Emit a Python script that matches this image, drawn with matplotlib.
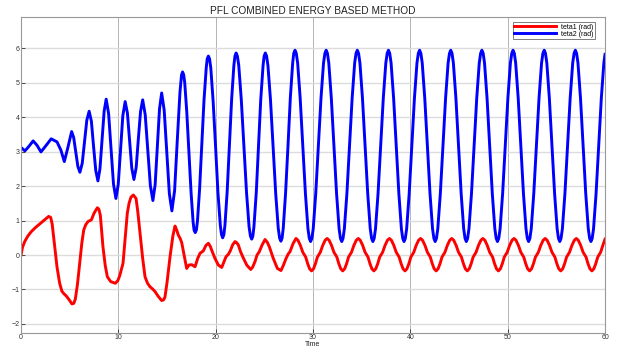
import matplotlib
matplotlib.use("Agg")
import matplotlib.pyplot as plt

plt.rcParams['font.family'] = ['Liberation Sans', 'DejaVu Sans']

title = "PFL COMBINED ENERGY BASED METHOD"
series_names = ["teta1 (rad)", "teta2 (rad)"]
x_ticks = [0, 10, 20, 30, 40, 50, 60]
y_ticks = [-2, -1, 0, 1, 2, 3, 4, 5, 6]

# teta2 (blue)
teta2_t = [
    0.0, 0.4, 0.75, 1.25, 1.65, 2.05, 2.5, 3.1, 3.7, 4.1, 4.45, 4.8, 5.2,
    5.41, 5.63, 5.84, 6.05, 6.29, 6.53, 6.76, 7.0,
    7.23, 7.45, 7.68, 7.9, 8.11, 8.33, 8.54, 8.75,
    9.0, 9.25, 9.5, 9.75, 9.99, 10.23, 10.46, 10.7,
    10.93, 11.15, 11.38, 11.6, 11.83, 12.05, 12.28, 12.5,
    12.76, 13.03, 13.29, 13.55, 13.78, 14.0, 14.23, 14.45,
    14.71, 14.98, 15.24, 15.5,
    15.78, 16.05, 16.33, 16.49, 16.6, 16.71,
    16.82, 17.03, 17.25, 17.47, 17.68, 17.78, 17.9, 18.02,
    18.13, 18.35, 18.58, 18.8, 19.03, 19.13, 19.25, 19.37,
    19.5, 19.74, 19.99, 20.23, 20.48, 20.6, 20.72, 20.84,
    20.95, 21.18, 21.41, 21.64, 21.87, 21.98, 22.1, 22.23,
    22.37, 22.63, 22.9, 23.17, 23.43, 23.57, 23.7, 23.82,
    23.93, 24.17, 24.4, 24.63, 24.87, 24.98, 25.1, 25.23,
    25.37, 25.63, 25.9, 26.17, 26.43, 26.57, 26.7, 26.82,
    26.94, 27.18, 27.43, 27.67, 27.91, 28.02,
    28.15, 28.28, 28.42, 28.68, 28.95, 29.22, 29.48, 29.62, 29.75, 29.88, 30.02, 30.28, 30.55, 30.82, 31.08, 31.22,
    31.35, 31.48, 31.62, 31.88, 32.15, 32.42, 32.68, 32.82, 32.95, 33.08, 33.22, 33.48, 33.75, 34.02, 34.28, 34.42,
    34.55, 34.68, 34.82, 35.08, 35.35, 35.62, 35.88, 36.02, 36.15, 36.28, 36.42, 36.68, 36.95, 37.22, 37.48, 37.62,
    37.75, 37.88, 38.02, 38.28, 38.55, 38.82, 39.08, 39.22, 39.35, 39.48, 39.62, 39.88, 40.15, 40.42, 40.68, 40.82,
    40.95, 41.08, 41.22, 41.48, 41.75, 42.02, 42.28, 42.42, 42.55, 42.68, 42.82, 43.08, 43.35, 43.62, 43.88, 44.02,
    44.15, 44.28, 44.42, 44.68, 44.95, 45.22, 45.48, 45.62, 45.75, 45.88, 46.02, 46.28, 46.55, 46.82, 47.08, 47.22,
    47.35, 47.48, 47.62, 47.88, 48.15, 48.42, 48.68, 48.82, 48.95, 49.08, 49.22, 49.48, 49.75, 50.02, 50.28, 50.42,
    50.55, 50.68, 50.82, 51.08, 51.35, 51.62, 51.88, 52.02, 52.15, 52.28, 52.42, 52.68, 52.95, 53.22, 53.48, 53.62,
    53.75, 53.88, 54.02, 54.28, 54.55, 54.82, 55.08, 55.22, 55.35, 55.48, 55.62, 55.88, 56.15, 56.42, 56.68, 56.82,
    56.95, 57.08, 57.22, 57.48, 57.75, 58.02, 58.28, 58.42, 58.55, 58.68, 58.82, 59.08, 59.35, 59.62, 59.88,
    60.0,
]
teta2 = [
    3.12, 3.02, 3.13, 3.31, 3.18, 2.99, 3.15, 3.37, 3.28, 3.04, 2.71, 3.1, 3.58,
    3.41, 2.99, 2.57, 2.40, 2.66, 3.29, 3.91, 4.17,
    3.88, 3.16, 2.45, 2.15, 2.50, 3.34, 4.17, 4.52,
    4.10, 3.08, 2.06, 1.64, 2.05, 3.05, 4.04, 4.45,
    4.12, 3.32, 2.52, 2.19, 2.53, 3.35, 4.16, 4.50,
    4.07, 3.04, 2.01, 1.58, 2.04, 3.14, 4.24, 4.70,
    4.20, 2.99, 1.78, 1.28,
    1.87, 3.30, 4.72, 5.22, 5.31, 5.23,
    5.00, 4.15, 2.98, 1.82, 0.96, 0.72, 0.65, 0.73,
    0.99, 1.93, 3.21, 4.49, 5.43, 5.69, 5.77, 5.69,
    5.42, 4.45, 3.14, 1.82, 0.85, 0.59, 0.50, 0.59,
    0.86, 1.84, 3.18, 4.52, 5.50, 5.77, 5.86, 5.77,
    5.50, 4.51, 3.16, 1.81, 0.82, 0.55, 0.46, 0.55,
    0.82, 1.81, 3.16, 4.51, 5.50, 5.77, 5.86, 5.77,
    5.49, 4.50, 3.13, 1.77, 0.77, 0.49, 0.40, 0.49,
    0.77, 1.79, 3.17, 4.56, 5.57, 5.85,
    5.94, 5.85, 5.57, 4.55, 3.17, 1.78, 0.76, 0.48, 0.39, 0.48, 0.76, 1.78, 3.17, 4.55, 5.57, 5.85,
    5.94, 5.85, 5.57, 4.55, 3.17, 1.78, 0.76, 0.48, 0.39, 0.48, 0.76, 1.78, 3.17, 4.55, 5.57, 5.85,
    5.94, 5.85, 5.57, 4.55, 3.17, 1.78, 0.76, 0.48, 0.39, 0.48, 0.76, 1.78, 3.17, 4.55, 5.57, 5.85,
    5.94, 5.85, 5.57, 4.55, 3.17, 1.78, 0.76, 0.48, 0.39, 0.48, 0.76, 1.78, 3.17, 4.55, 5.57, 5.85,
    5.94, 5.85, 5.57, 4.55, 3.17, 1.78, 0.76, 0.48, 0.39, 0.48, 0.76, 1.78, 3.17, 4.55, 5.57, 5.85,
    5.94, 5.85, 5.57, 4.55, 3.17, 1.78, 0.76, 0.48, 0.39, 0.48, 0.76, 1.78, 3.17, 4.55, 5.57, 5.85,
    5.94, 5.85, 5.57, 4.55, 3.17, 1.78, 0.76, 0.48, 0.39, 0.48, 0.76, 1.78, 3.17, 4.55, 5.57, 5.85,
    5.94, 5.85, 5.57, 4.55, 3.17, 1.78, 0.76, 0.48, 0.39, 0.48, 0.76, 1.78, 3.17, 4.55, 5.57, 5.85,
    5.94, 5.85, 5.57, 4.55, 3.17, 1.78, 0.76, 0.48, 0.39, 0.48, 0.76, 1.78, 3.17, 4.55, 5.57, 5.85,
    5.94, 5.85, 5.57, 4.55, 3.17, 1.78, 0.76, 0.48, 0.39, 0.48, 0.76, 1.78, 3.17, 4.55, 5.57,
    5.82,
]

# teta1 (red)
teta1_t = [
    0.0, 0.15, 0.38, 0.7, 1.06, 1.5, 2.09, 2.5, 2.84, 3.05,
    3.2, 3.46, 3.7, 3.97, 4.2, 4.4, 4.66, 4.95, 5.24, 5.42,
    5.58, 5.8, 6.03, 6.25, 6.44, 6.65, 6.88, 7.23, 7.5, 7.84,
    8.0, 8.15, 8.42, 8.65, 8.87, 9.21, 9.69, 9.95, 10.14, 10.48,
    10.7, 10.92, 11.1, 11.3, 11.54, 11.82, 12.0, 12.23, 12.5, 12.74,
    13.0, 13.25, 13.5, 13.77, 14.1, 14.45, 14.65, 14.79, 15.0, 15.31,
    15.6, 15.82, 16.0, 16.16, 16.35, 16.51, 16.75, 17.02, 17.26, 17.54,
    17.88, 18.15, 18.39, 18.73, 19.0, 19.25, 19.45, 19.59, 19.93, 20.27,
    20.62, 20.85, 21.06, 21.3, 21.5, 21.75, 21.99, 22.15, 22.33, 22.55,
    22.78, 22.95, 23.19, 23.6, 23.8, 24.04, 24.25, 24.49, 24.75, 25.07,
    25.3, 25.51, 25.7, 25.92, 26.34, 26.71, 26.95, 27.23, 27.45, 27.64,
    27.95,
    28.25, 28.45, 28.7, 28.95, 29.1, 29.25, 29.45, 29.65, 29.85, 30.05, 30.25, 30.45, 30.6, 30.75, 31.0, 31.25,
    31.45, 31.65, 31.9, 32.15, 32.3, 32.45, 32.65, 32.85, 33.05, 33.25, 33.45, 33.65, 33.8, 33.95, 34.2, 34.45,
    34.65, 34.85, 35.1, 35.35, 35.5, 35.65, 35.85, 36.05, 36.25, 36.45, 36.65, 36.85, 37.0, 37.15, 37.4, 37.65,
    37.85, 38.05, 38.3, 38.55, 38.7, 38.85, 39.05, 39.25, 39.45, 39.65, 39.85, 40.05, 40.2, 40.35, 40.6, 40.85,
    41.05, 41.25, 41.5, 41.75, 41.9, 42.05, 42.25, 42.45, 42.65, 42.85, 43.05, 43.25, 43.4, 43.55, 43.8, 44.05,
    44.25, 44.45, 44.7, 44.95, 45.1, 45.25, 45.45, 45.65, 45.85, 46.05, 46.25, 46.45, 46.6, 46.75, 47.0, 47.25,
    47.45, 47.65, 47.9, 48.15, 48.3, 48.45, 48.65, 48.85, 49.05, 49.25, 49.45, 49.65, 49.8, 49.95, 50.2, 50.45,
    50.65, 50.85, 51.1, 51.35, 51.5, 51.65, 51.85, 52.05, 52.25, 52.45, 52.65, 52.85, 53.0, 53.15, 53.4, 53.65,
    53.85, 54.05, 54.3, 54.55, 54.7, 54.85, 55.05, 55.25, 55.45, 55.65, 55.85, 56.05, 56.2, 56.35, 56.6, 56.85,
    57.05, 57.25, 57.5, 57.75, 57.9, 58.05, 58.25, 58.45, 58.65, 58.85, 59.05, 59.25, 59.4, 59.55, 59.8, 60.0,
]
teta1 = [
    0.0, 0.22, 0.39, 0.55, 0.68, 0.80, 0.94, 1.04, 1.12, 1.09,
    0.90, 0.24, -0.35, -0.82, -1.05, -1.12, -1.19, -1.30, -1.42, -1.40,
    -1.28, -0.85, -0.24, 0.35, 0.72, 0.88, 0.97, 1.02, 1.21, 1.37,
    1.33, 1.15, 0.24, -0.30, -0.63, -0.77, -0.82, -0.74, -0.60, -0.24,
    0.50, 1.21, 1.50, 1.68, 1.74, 1.64, 1.25, 0.63, -0.10, -0.63,
    -0.82, -0.92, -0.98, -1.06, -1.20, -1.32, -1.30, -1.22, -0.80, -0.05,
    0.55, 0.84, 0.72, 0.58, 0.48, 0.36, 0.0, -0.39, -0.29, -0.28,
    -0.34, -0.10, 0.05, 0.12, 0.28, 0.34, 0.25, 0.14, -0.10, -0.29,
    -0.36, -0.20, -0.05, 0.02, 0.12, 0.30, 0.39, 0.36, 0.29, 0.10,
    -0.05, -0.15, -0.29, -0.42, -0.35, -0.19, 0.0, 0.10, 0.28, 0.45,
    0.37, 0.24, 0.08, -0.10, -0.39, -0.45, -0.30, -0.10, 0.03, 0.10,
    0.33,
    0.48, 0.43, 0.28, 0.08, 0.01, -0.06, -0.25, -0.40, -0.46, -0.40, -0.25, -0.06, 0.01, 0.08, 0.28, 0.43,
    0.48, 0.43, 0.28, 0.08, 0.01, -0.06, -0.25, -0.40, -0.46, -0.40, -0.25, -0.06, 0.01, 0.08, 0.28, 0.43,
    0.48, 0.43, 0.28, 0.08, 0.01, -0.06, -0.25, -0.40, -0.46, -0.40, -0.25, -0.06, 0.01, 0.08, 0.28, 0.43,
    0.48, 0.43, 0.28, 0.08, 0.01, -0.06, -0.25, -0.40, -0.46, -0.40, -0.25, -0.06, 0.01, 0.08, 0.28, 0.43,
    0.48, 0.43, 0.28, 0.08, 0.01, -0.06, -0.25, -0.40, -0.46, -0.40, -0.25, -0.06, 0.01, 0.08, 0.28, 0.43,
    0.48, 0.43, 0.28, 0.08, 0.01, -0.06, -0.25, -0.40, -0.46, -0.40, -0.25, -0.06, 0.01, 0.08, 0.28, 0.43,
    0.48, 0.43, 0.28, 0.08, 0.01, -0.06, -0.25, -0.40, -0.46, -0.40, -0.25, -0.06, 0.01, 0.08, 0.28, 0.43,
    0.48, 0.43, 0.28, 0.08, 0.01, -0.06, -0.25, -0.40, -0.46, -0.40, -0.25, -0.06, 0.01, 0.08, 0.28, 0.43,
    0.48, 0.43, 0.28, 0.08, 0.01, -0.06, -0.25, -0.40, -0.46, -0.40, -0.25, -0.06, 0.01, 0.08, 0.28, 0.43,
    0.48, 0.43, 0.28, 0.08, 0.01, -0.06, -0.25, -0.40, -0.46, -0.40, -0.25, -0.06, 0.01, 0.08, 0.30, 0.46,
]

fig = plt.figure(figsize=(6.18, 3.49), dpi=100)
ax = fig.add_axes([0.034, 0.047, 0.945, 0.904])

ax.plot(teta1_t, teta1, color="#ff0000", lw=2.1, label=series_names[0])
ax.plot(teta2_t, teta2, color="#0000ff", lw=2.1, label=series_names[1])

ax.set_xlim(0, 60)
ax.set_ylim(-2.25, 6.9)
ax.set_xticks(x_ticks)
ax.set_yticks(y_ticks)
ax.tick_params(direction="in", length=3, width=0.6, labelsize=5, colors="#333333", pad=1.0)
ax.grid(axis="x", color="#a8a8a8", lw=0.6)
ax.grid(axis="y", color="#dcdcdc", lw=1.0)
ax.set_axisbelow(True)
for s in ax.spines.values():
    s.set_color("#999999")
    s.set_linewidth(0.8)

ax.set_title(title, fontsize=7.3, color="#222222", pad=2)
ax.set_xlabel("Time", fontsize=5, color="#222222", labelpad=0.3)

leg = ax.legend(loc="upper right", fontsize=5, frameon=True, fancybox=False,
                handlelength=6, borderpad=0.2, labelspacing=0.05, borderaxespad=0,
                bbox_to_anchor=(0.983, 0.984))
leg.get_frame().set_edgecolor("#444444")
leg.get_frame().set_linewidth(0.6)

fig.savefig("out.png", dpi=100)
